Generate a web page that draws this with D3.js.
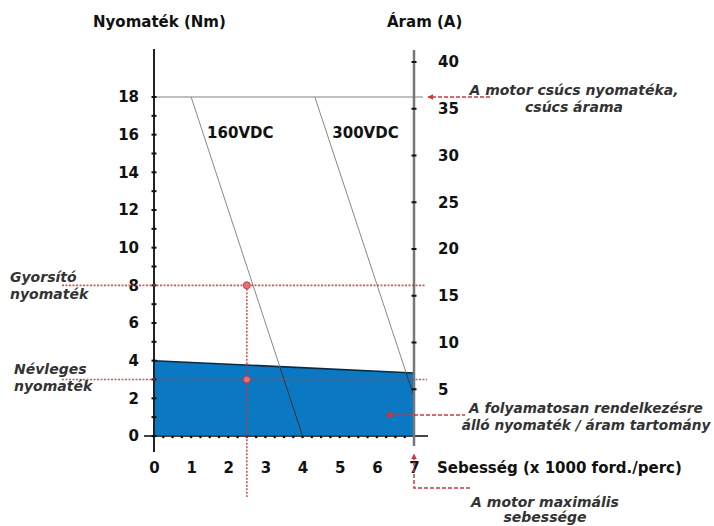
<!DOCTYPE html>
<html>
<head>
<meta charset="utf-8">
<script src="https://cdn.jsdelivr.net/npm/d3@7"></script>
<style>
  body { margin: 0; background: #fff; }
  svg text { font-family: "DejaVu Sans", "Liberation Sans", Arial, sans-serif; }
  .tick text { font-size: 15px; font-weight: bold; fill: #111; }
  .note { font-size: 14px; font-style: italic; font-weight: bold; fill: #333; }
</style>
</head>
<body>
<div id="chart"></div>
<script>
// axis ticks
const torqueTicks = [0, 2, 4, 6, 8, 10, 12, 14, 16, 18]
const currentTicks = [5, 10, 15, 20, 25, 30, 35, 40]
const speedTicks = [0, 1, 2, 3, 4, 5, 6, 7]

// continuous torque region (speed x1000 rpm, torque Nm)
const contSpeed = [0, 7]
const contTorque = [4, 3.35]

// voltage limit lines
const voltages = ['160VDC', '300VDC']
const voltSpeed = [[1, 4], [4.33, 7]]
const voltTorque = [[18, 0], [18, 2.1]]

const peakTorque = 18
const accelTorque = 8
const ratedTorque = 3
const opSpeed = 2.5
const maxSpeed = 7

const width = 714, height = 526
const red = '#c8393b'

const svg = d3.select('#chart').append('svg')
    .attr('width', width)
    .attr('height', height)

const x = d3.scaleLinear().domain([0, 7]).range([154, 414])
const y = d3.scaleLinear().domain([0, 18]).range([436, 97])
const yA = d3.scaleLinear().domain([0, 40]).range([436, 62])

// continuous area
const area = d3.area()
    .x(d => x(d[0]))
    .y0(y(0))
    .y1(d => y(d[1]))
const contPts = contSpeed.map((s, i) => [s, contTorque[i]])
svg.append('path')
    .datum(contPts)
    .attr('d', area)
    .attr('fill', '#0a78c2')
svg.append('path')
    .datum(contPts)
    .attr('d', d3.line().x(d => x(d[0])).y(d => y(d[1])))
    .attr('stroke', '#0d2a45')
    .attr('stroke-width', 1.5)
    .attr('fill', 'none')

// peak torque line
svg.append('line')
    .attr('x1', x(0)).attr('x2', x(7) + 9)
    .attr('y1', y(peakTorque)).attr('y2', y(peakTorque))
    .attr('stroke', '#aaa').attr('stroke-width', 1.5)

// voltage lines
svg.append('clipPath').attr('id', 'clipArea')
    .append('path').datum(contPts).attr('d', area)
const vline = d3.line().x(d => x(d[0])).y(d => y(d[1]))
voltages.forEach((v, i) => {
    const pts = voltSpeed[i].map((s, j) => [s, voltTorque[i][j]])
    svg.append('path')
        .datum(pts)
        .attr('d', vline)
        .attr('stroke', '#888')
        .attr('stroke-width', 1)
        .attr('fill', 'none')
    svg.append('path')
        .datum(pts)
        .attr('d', vline)
        .attr('stroke', '#0d2a45')
        .attr('stroke-width', 1)
        .attr('fill', 'none')
        .attr('clip-path', 'url(#clipArea)')
})

svg.append('text').attr('x', x(1.43)).attr('y', 138)
    .attr('font-size', 15).attr('font-weight', 'bold').attr('fill', '#111')
    .text(voltages[0])
svg.append('text').attr('x', x(4.8)).attr('y', 138)
    .attr('font-size', 15).attr('font-weight', 'bold').attr('fill', '#111')
    .text(voltages[1])

// axes
const xAxis = svg.append('g')
    .attr('transform', `translate(0,${y(0)})`)
    .call(d3.axisBottom(x).tickValues(speedTicks).tickSize(0).tickPadding(26).tickFormat(d3.format('d')))
xAxis.select('.domain').remove()
svg.append('line')
    .attr('x1', 144).attr('x2', 428)
    .attr('y1', y(0)).attr('y2', y(0))
    .attr('stroke', '#444').attr('stroke-width', 2)
svg.append('g').selectAll('circle')
    .data(d3.range(0, 28).map(i => i / 4))
    .join('circle')
    .attr('cx', d => x(d)).attr('cy', y(0) + 1)
    .attr('r', 1.3).attr('fill', '#111')

const yAxis = svg.append('g')
    .attr('transform', `translate(${x(0)},0)`)
    .call(d3.axisLeft(y).tickValues(torqueTicks).tickSize(0).tickPadding(15).tickFormat(d3.format('d')))
yAxis.select('.domain').remove()
svg.append('line')
    .attr('x1', x(0)).attr('x2', x(0))
    .attr('y1', 49).attr('y2', 452)
    .attr('stroke', '#222').attr('stroke-width', 2)
svg.append('g').selectAll('line')
    .data(d3.range(0, 19))
    .join('line')
    .attr('x1', x(0) - 2.5).attr('x2', x(0) + 2.5)
    .attr('y1', d => y(d)).attr('y2', d => y(d))
    .attr('stroke', '#111').attr('stroke-width', 2)

const aAxis = svg.append('g')
    .attr('transform', `translate(${x(7)},0)`)
    .call(d3.axisRight(yA).tickValues(currentTicks).tickSize(0).tickPadding(24).tickFormat(d3.format('d')))
aAxis.select('.domain').remove()
svg.append('line')
    .attr('x1', x(7)).attr('x2', x(7))
    .attr('y1', 50).attr('y2', 446)
    .attr('stroke', '#777').attr('stroke-width', 2.5)
svg.append('g').selectAll('line')
    .data(currentTicks)
    .join('line')
    .attr('x1', x(7) - 2.5).attr('x2', x(7) + 2.5)
    .attr('y1', d => yA(d)).attr('y2', d => yA(d))
    .attr('stroke', '#111').attr('stroke-width', 2)

// axis titles
svg.append('text').attr('x', 93).attr('y', 27)
    .attr('font-size', 15).attr('font-weight', 'bold').attr('fill', '#111')
    .text('Nyomaték (Nm)')
svg.append('text').attr('x', 387).attr('y', 27)
    .attr('font-size', 15).attr('font-weight', 'bold').attr('fill', '#111')
    .text('Áram (A)')
svg.append('text').attr('x', 437).attr('y', 473)
    .attr('font-size', 15).attr('font-weight', 'bold').attr('fill', '#111')
    .text('Sebesség (x 1000 ford./perc)')

// red dotted guide lines
const dotted = (x1, y1, x2, y2) => svg.append('line')
    .attr('x1', x1).attr('y1', y1).attr('x2', x2).attr('y2', y2)
    .attr('stroke', red).attr('stroke-width', 1.6)
    .attr('stroke-dasharray', '2,1.5').attr('opacity', 0.85)
dotted(62, y(accelTorque), 425, y(accelTorque))
dotted(62, y(ratedTorque), 427, y(ratedTorque))
dotted(x(opSpeed), y(accelTorque), x(opSpeed), 497)
svg.append('g').selectAll('circle')
    .data([accelTorque, ratedTorque])
    .join('circle')
    .attr('cx', x(opSpeed)).attr('cy', d => y(d))
    .attr('r', 3.5).attr('fill', '#e0737a').attr('stroke', red).attr('stroke-width', 1)

// arrows
svg.append('defs').append('marker')
    .attr('id', 'arr').attr('viewBox', '0 0 10 10')
    .attr('refX', 9).attr('refY', 5)
    .attr('markerWidth', 4).attr('markerHeight', 4)
    .attr('orient', 'auto')
    .append('path').attr('d', 'M0,0L10,5L0,10z').attr('fill', red)

const dashed = pts => svg.append('path')
    .attr('d', d3.line()(pts))
    .attr('stroke', red).attr('stroke-width', 1.5)
    .attr('stroke-dasharray', '4,2').attr('fill', 'none')

dashed([[490, y(peakTorque)], [428, y(peakTorque)]]).attr('marker-end', 'url(#arr)')
dashed([[470, 488], [x(maxSpeed), 488], [x(maxSpeed), 454]]).attr('marker-end', 'url(#arr)')
dashed([[390, 415], [465, 415]])
svg.append('circle').attr('cx', 390).attr('cy', 415).attr('r', 3).attr('fill', red)

// notes
const note = (tx, ty, lines, anchor, gap) => {
    const t = svg.append('text').attr('class', 'note')
        .attr('text-anchor', anchor || 'start')
    lines.forEach((l, i) => t.append('tspan').attr('x', tx).attr('y', ty + i * (gap || 17)).text(l))
    return t
}
note(574, 95, ['A motor csúcs nyomatéka,', 'csúcs árama'], 'middle')
note(10, 282, ['Gyorsító', 'nyomaték'])
note(14, 374, ['Névleges', 'nyomaték'])
note(586, 413, ['A folyamatosan rendelkezésre', 'álló nyomaték / áram tartomány'], 'middle')
    .style('font-size', '13.7px')
note(545, 507, ['A motor maximális', 'sebessége'], 'middle', 15)
</script>
</body>
</html>
